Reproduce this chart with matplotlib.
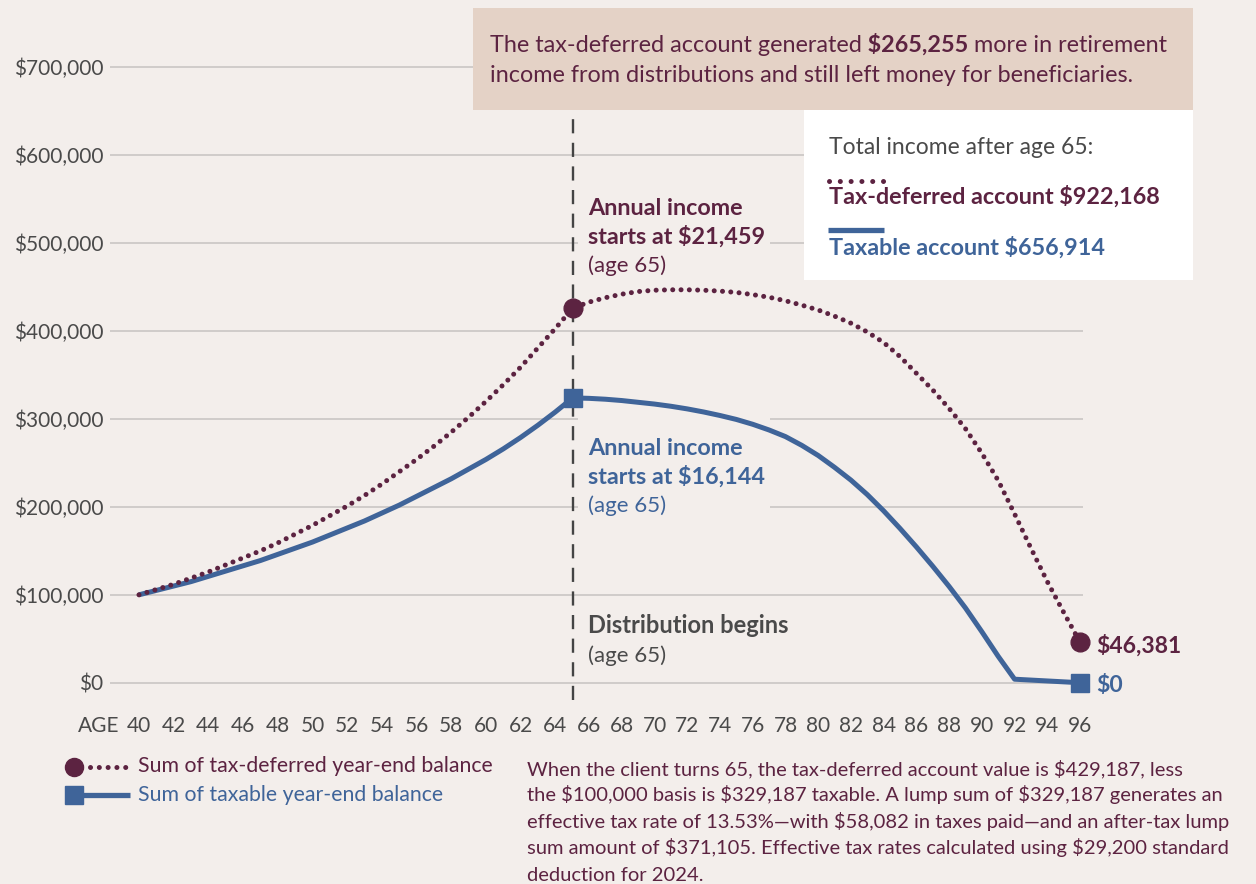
import numpy as np
import matplotlib
matplotlib.use("Agg")
import matplotlib.pyplot as plt
from matplotlib.lines import Line2D
from matplotlib.patches import Rectangle
from matplotlib.ticker import FuncFormatter, NullLocator

# ---------------- data ----------------
ages = list(range(40, 97))
tax_deferred_k = [100, 106, 112, 119, 126, 134, 142, 150, 159, 169,
                  179, 190, 201, 213, 226, 240, 254, 269, 285, 302,
                  320, 339, 359, 381, 403, 426,
                  433, 438, 442, 445, 446.5, 447, 447, 446.5, 445.5, 444,
                  441.5, 438.5, 434.5, 429.5, 424, 417, 409, 399, 387, 371,
                  352, 333, 312, 289, 261, 230, 192, 153, 115, 80, 46]
taxable_k = [100, 105, 110, 115, 121, 127, 133, 139, 146, 153,
             160, 168, 176, 184, 193, 202, 212, 222, 232, 243,
             254, 266, 279, 293, 308, 324,
             323.5, 322.5, 321, 319, 317, 314.5, 311.5, 308, 304, 299.5,
             294, 287.5, 280, 270, 258.5, 245, 230.5, 214, 195.5, 175.5,
             154.5, 132.5, 109.5, 85, 58, 30, 4, 3, 2, 1, 0]
tax_deferred = [v * 1000 for v in tax_deferred_k]
taxable = [v * 1000 for v in taxable_k]
x_ticks = list(range(40, 97, 2))
y_ticks = [0, 100000, 200000, 300000, 400000, 500000, 600000, 700000]
distribution_age = 65
end_age = 96

headline_parts = [("The tax-deferred account generated", "normal"),
                  (" $265,255", "bold"),
                  (" more in retirement", "normal")]
headline_line2 = "income from distributions and still left money for beneficiaries."
box_title = "Total income after age 65:"
box_td = "Tax-deferred account $922,168"
box_tx = "Taxable account $656,914"
label_td = ["Annual income", "starts at $21,459", "(age 65)"]
label_tx = ["Annual income", "starts at $16,144", "(age 65)"]
label_dist = ["Distribution begins", "(age 65)"]
end_td = "$46,381"
end_tx = "$0"
legend_td = "Sum of tax-deferred year-end balance"
legend_tx = "Sum of taxable year-end balance"
footnote = ["When the client turns 65, the tax-deferred account value is $429,187, less",
            "the $100,000 basis is $329,187 taxable. A lump sum of $329,187 generates an",
            "effective tax rate of 13.53%\u2014with $58,082 in taxes paid\u2014and an after-tax lump",
            "sum amount of $371,105. Effective tax rates calculated using $29,200 standard",
            "deduction for 2024."]

# ---------------- style ----------------
BG = "#f3eeeb"
PURPLE = "#5c2341"
BLUE = "#3f6499"
GRID = "#cdc9c7"
TAN = "#e4d2c6"
GRAY = "#4a4a4a"

plt.rcParams['font.family'] = ['Lato', 'DejaVu Sans']

W, H = 1256, 884
fig = plt.figure(figsize=(W / 100, H / 100), dpi=100, facecolor=BG)


def fx(x):
    return x / W


def fy(y):
    return 1 - y / H


ax_left, ax_right, ax_top, ax_bottom = 110, 1083, 49.8, 700.3
ax = fig.add_axes([fx(ax_left), fy(ax_bottom), (ax_right - ax_left) / W,
                   (ax_bottom - ax_top) / H])
ax.set_facecolor(BG)

A_L, A_R = 17.33, 16.35


def fwd(x):
    x = np.asarray(x, dtype=float)
    return np.where(x <= 65, (x - 65) * A_L, (x - 65) * A_R)


def inv(u):
    u = np.asarray(u, dtype=float)
    return np.where(u <= 0, u / A_L + 65, u / A_R + 65)


ax.set_xscale('function', functions=(fwd, inv))
ax.set_xlim(38.33, 96.18)
ax.set_ylim(-20000, 720000)
for s in ax.spines.values():
    s.set_visible(False)
ax.set_xticks(x_ticks)
ax.set_yticks(y_ticks)
ax.xaxis.set_minor_locator(NullLocator())
ax.yaxis.set_major_formatter(FuncFormatter(lambda v, p: "${:,.0f}".format(v)))
ax.tick_params(axis='both', length=0, labelsize=15, labelcolor=GRAY)
ax.tick_params(axis='y', pad=5)
ax.tick_params(axis='x', pad=11.5)
ax.set_axisbelow(True)
ax.grid(axis='y', color=GRID, linewidth=1.3)
ax.grid(axis='x', visible=False)

# background blocks behind labels (break the gridlines)
for (x0, y0, x1, y1) in [(578, 188, 770, 280), (578, 414, 770, 521)]:
    ax.add_patch(Rectangle((fx(x0), fy(y1)), (x1 - x0) / W, (y1 - y0) / H,
                           transform=fig.transFigure, facecolor=BG,
                           edgecolor='none', zorder=1, clip_on=False))

# dashed distribution line
ax.axvline(distribution_age, ymin=0, ymax=0.9, color="#444444", lw=1.7,
           linestyle=(0, (6, 4)), zorder=2)

# series
ax.plot(ages, taxable, color=BLUE, lw=3.6, solid_capstyle='butt',
        solid_joinstyle='round', zorder=3)
ax.plot(ages, tax_deferred, color=PURPLE, lw=3.6,
        linestyle=(0, (0.01, 1.65)), dash_capstyle='round', zorder=4)

i65 = ages.index(distribution_age)
iend = ages.index(end_age)
ax.plot([ages[i65], ages[iend]], [tax_deferred[i65], tax_deferred[iend]], 'o',
        color=PURPLE, markersize=13.5, zorder=6, clip_on=False)
ax.plot([ages[i65], ages[iend]], [taxable[i65], taxable[iend]], 's',
        color=BLUE, markersize=13.5, zorder=5, clip_on=False)


def ftext(x, y, s, **kw):
    kw.setdefault('va', 'baseline')
    kw.setdefault('parse_math', False)
    return fig.text(fx(x), fy(y), s, **kw)


# annotation box top
fig.patches.append(Rectangle((fx(473), fy(110)), (1193 - 473) / W, (110 - 8) / H,
                             transform=fig.transFigure, facecolor=TAN,
                             edgecolor='none', zorder=5))
renderer = fig.canvas.get_renderer()
x = 490
for s, w in headline_parts:
    t = ftext(x, 51.5, s, fontsize=16.8, fontweight=w, color=PURPLE, zorder=6)
    x = t.get_window_extent(renderer=renderer).x1
ftext(490, 82.5, headline_line2, fontsize=16.8, color=PURPLE, zorder=6)

# white legend box
fig.patches.append(Rectangle((fx(804), fy(280)), (1193 - 804) / W, (280 - 110) / H,
                             transform=fig.transFigure, facecolor='white',
                             edgecolor='none', zorder=5))
ftext(829, 154.5, box_title, fontsize=16.5, color=GRAY, zorder=6)
fig.add_artist(Line2D([fx(829), fx(885)], [fy(180.5), fy(180.5)], color=PURPLE,
                      lw=3.6, linestyle=(0, (0.01, 2.15)), dash_capstyle='round',
                      zorder=6))
ftext(829, 204, box_td, fontsize=16.8, fontweight='bold', color=PURPLE, zorder=6)
fig.add_artist(Line2D([fx(828), fx(884)], [fy(230), fy(230)], color=BLUE,
                      lw=3.8, solid_capstyle='butt', zorder=6))
ftext(829, 255, box_tx, fontsize=16.8, fontweight='bold', color=BLUE, zorder=6)

# labels at age 65
ftext(588, 215, label_td[0], fontsize=16.8, fontweight='bold', color=PURPLE)
ftext(588, 244, label_td[1], fontsize=16.8, fontweight='bold', color=PURPLE)
ftext(588, 271.5, label_td[2], fontsize=16, color=PURPLE)
ftext(588, 455, label_tx[0], fontsize=16.8, fontweight='bold', color=BLUE)
ftext(588, 483.5, label_tx[1], fontsize=16.8, fontweight='bold', color=BLUE)
ftext(588, 511.5, label_tx[2], fontsize=16, color=BLUE)
ftext(588, 633, label_dist[0], fontsize=17, fontweight='bold', color=GRAY)
ftext(588, 662, label_dist[1], fontsize=16, color=GRAY)

# end labels
ftext(1096, 653, end_td, fontsize=16.5, fontweight='bold', color=PURPLE)
ftext(1096, 691.5, end_tx, fontsize=16.5, fontweight='bold', color=BLUE)

# AGE label
ftext(78, 731.5, "AGE", fontsize=15, color=GRAY)

# bottom legend
fig.add_artist(Line2D([fx(74)], [fy(767)], marker='o', markersize=13,
                      color=PURPLE, lw=0))
fig.add_artist(Line2D([fx(90), fx(126)], [fy(767), fy(767)], color=PURPLE,
                      lw=3.6, linestyle=(0, (0.01, 1.75)), dash_capstyle='round'))
ftext(138, 771.5, legend_td, fontsize=15.3, color=PURPLE)
fig.add_artist(Line2D([fx(74)], [fy(795)], marker='s', markersize=13,
                      color=BLUE, lw=0))
fig.add_artist(Line2D([fx(80), fx(130)], [fy(795), fy(795)], color=BLUE,
                      lw=3.8, solid_capstyle='butt'))
ftext(138, 801, legend_tx, fontsize=15.3, color=BLUE)

# footnote
for k, line in enumerate(footnote):
    ftext(527, 775 + k * 26.4, line, fontsize=14.5, color=PURPLE)

fig.savefig("out.png", dpi=100, facecolor=BG)
